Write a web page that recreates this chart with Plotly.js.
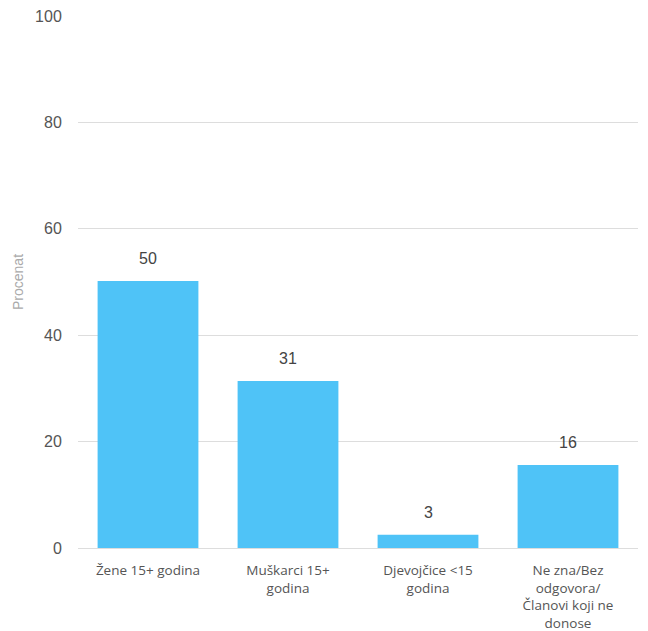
<!DOCTYPE html>
<html>
<head>
<meta charset="utf-8">
<script src="https://cdn.plot.ly/plotly-3.0.1.min.js"></script>
<style>html,body{margin:0;padding:0;background:#fff;}#chart{width:648px;height:631px;}</style>
</head>
<body>
<div id="chart"></div>
<script>
const categories = ["Žene 15+ godina", "Muškarci 15+<br>godina", "Djevojčice <15<br>godina", "Ne zna/Bez<br>odgovora/<br>Članovi koji ne<br>donose"];
const values = [50.2, 31.4, 2.5, 15.6];
const labels = ["50", "31", "3", "16"];
const yTicks = [0, 20, 40, 60, 80, 100];

const FONT = "'Liberation Sans', Arial, sans-serif";
const XFONT = "'Open Sans', 'Liberation Sans', Arial, sans-serif";

const trace = {
  type: 'bar',
  x: categories,
  y: values,
  marker: {color: '#4FC3F7'},
  hoverinfo: 'none'
};

const annotations = categories.map((c, i) => ({
  x: c, y: values[i], text: labels[i],
  showarrow: false, yanchor: 'bottom', yshift: 12,
  font: {family: FONT, size: 16, color: '#444'}
}));

const layout = {
  width: 648, height: 631,
  margin: {l: 78, r: 10, t: 16, b: 83},
  paper_bgcolor: '#fff', plot_bgcolor: '#fff',
  bargap: 0.28,
  showlegend: false,
  font: {family: FONT, color: '#555'},
  xaxis: {
    tickfont: {family: XFONT, size: 13.5, color: '#555'},
    showgrid: false, zeroline: false, showline: false,
    ticks: 'outside', ticklen: 10, tickcolor: 'rgba(0,0,0,0)', automargin: false
  },
  yaxis: {
    range: [0, 100], tickvals: yTicks,
    tickfont: {family: FONT, size: 16, color: '#555'},
    gridcolor: '#dddddd', gridwidth: 1,
    zeroline: true, zerolinecolor: '#dddddd', zerolinewidth: 1,
    showline: false, ticks: 'outside', ticklen: 12, tickcolor: 'rgba(0,0,0,0)',
    title: {text: 'Procenat', font: {family: FONT, size: 14, color: '#aaaaaa'}, standoff: 8},
    automargin: false
  },
  annotations: annotations
};

Plotly.newPlot('chart', [trace], layout, {displayModeBar: false, staticPlot: true});
</script>
</body>
</html>
